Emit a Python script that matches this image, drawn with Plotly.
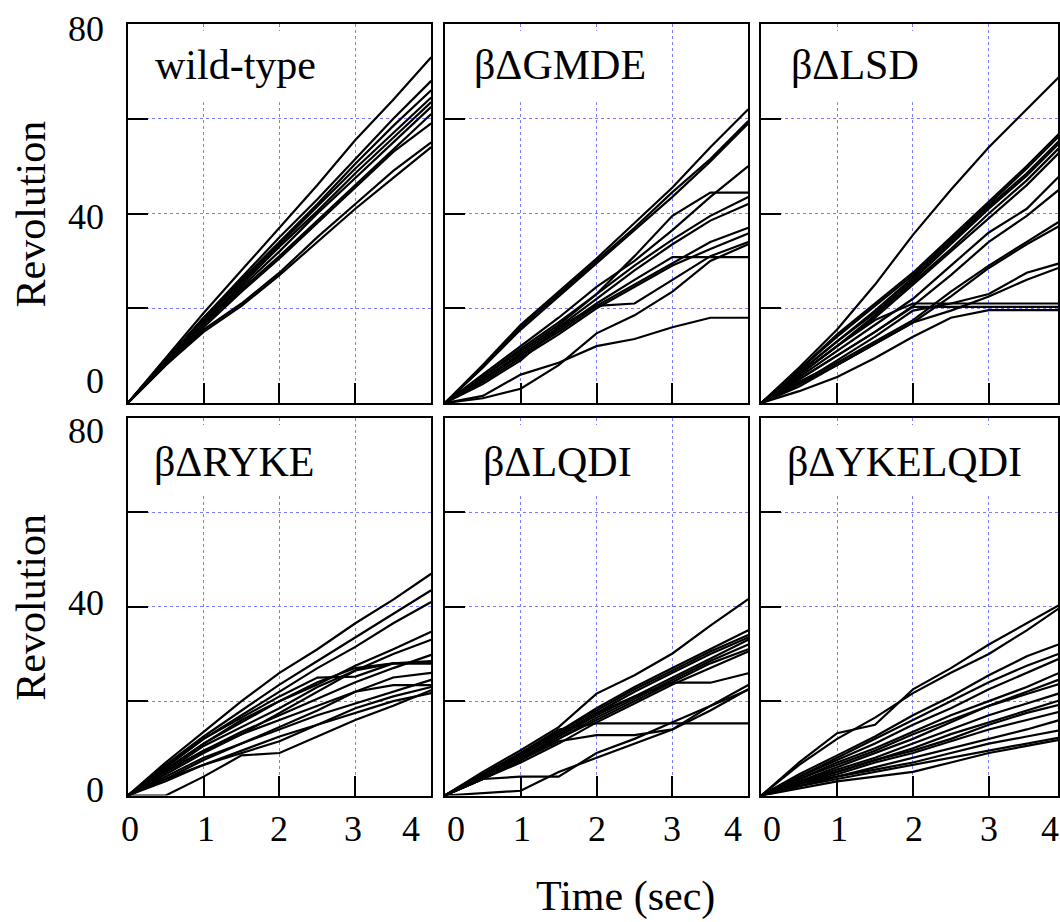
import plotly.graph_objects as go

# ---------------- data ----------------
T = [0, 0.5, 1, 1.5, 2, 2.5, 3, 3.5, 4]  # Time (sec)

WILD_TYPE = [
    [0, 9.5, 19, 28, 37, 46, 55.5, 64, 73],
    [0, 9, 18, 26.5, 35, 43, 51.5, 60, 68],
    [0, 9, 18, 26, 34, 42, 50.5, 58.5, 66],
    [0, 9, 17.5, 25.5, 33.5, 41.5, 49.5, 57, 64.5],
    [0, 8.5, 17, 25, 33, 40.5, 48.5, 56, 63.5],
    [0, 8.5, 17, 24.5, 32, 40, 47.5, 55, 62.5],
    [0, 8.5, 16.5, 24, 31, 38.5, 46, 53.5, 61],
    [0, 8, 16, 23.5, 30.5, 38, 45.5, 53, 59],
    [0, 8, 15.5, 21, 27.5, 35, 42, 49, 55],
    [0, 8, 15, 20.5, 27, 34, 41, 47.5, 54],
]

GMDE = [
    [0, 8, 16.5, 23.5, 30.5, 38, 45.5, 54, 62],
    [0, 7.5, 16, 23, 30, 37, 44.5, 51.5, 59.5],
    [0, 7.5, 15.5, 22.5, 29.5, 36.5, 43.5, 51, 59],
    [0, 6, 12, 18, 24.5, 30, 36.5, 43.5, 50],
    [0, 5.5, 11.5, 17, 23, 31, 39.5, 44.4, 44.4],
    [0, 5.5, 11, 16.5, 23, 29, 34.5, 39.5, 43.5],
    [0, 5, 10.5, 16, 22, 28, 33.5, 38.5, 42],
    [0, 5, 10, 15, 20.5, 25, 29.5, 34, 37],
    [0, 4.5, 9.5, 14.5, 20, 24.5, 29, 32.5, 35.8],
    [0, 5, 10, 15.5, 21, 26, 30.8, 30.8, 30.8],
    [0, 4, 9, 16, 20.5, 21, 26, 31, 34],
    [0, 1, 3, 8, 14.7, 18.5, 23.5, 30, 33.5],
    [0, 1.5, 6, 8.5, 12, 13.5, 16, 18, 18],
]

LSD = [
    [0, 7.5, 15.5, 25, 35.5, 45, 54, 62, 70],
    [0, 7, 14.5, 21, 27.5, 35, 42.5, 50, 58],
    [0, 7, 14, 20.5, 27, 34.5, 42, 49.5, 57.5],
    [0, 6.5, 13, 19.5, 26.5, 34, 41.5, 48.5, 56.5],
    [0, 6.5, 13, 19, 26, 33.5, 41, 48, 56],
    [0, 6, 12, 18.5, 25.5, 32.5, 40, 47, 55],
    [0, 6, 12, 18, 25, 32, 39, 46, 54],
    [0, 5.5, 11, 16.5, 22, 29, 36, 41, 49],
    [0, 5, 10, 15, 20.5, 27, 34, 39.5, 46],
    [0, 4.5, 8.5, 13, 17.5, 23.5, 29, 34, 39],
    [0, 4, 8, 12.5, 17, 22.5, 28.5, 33.5, 38],
    [0, 4, 9, 14, 19.5, 21, 23, 27.5, 29.8],
    [0, 3.5, 8, 12.5, 17, 19.5, 22.5, 26, 29],
    [0, 6, 12, 17.5, 21, 21, 21, 21, 21],
    [0, 5, 10, 15, 20.3, 20.3, 20.3, 20.3, 20.3],
    [0, 2.5, 5.5, 9.5, 14, 18, 19.6, 19.6, 19.6],
]

RYKE = [
    [0, 7, 13.5, 20, 26, 31, 36.5, 41.5, 47],
    [0, 6.5, 12.5, 18, 23.5, 28.5, 33.5, 38.5, 43.5],
    [0, 6, 12, 17, 22, 27, 31.5, 36.5, 41],
    [0, 5.5, 11, 15.5, 20, 23.5, 27.5, 31, 34.7],
    [0, 5, 10.5, 14.5, 18.5, 23, 26.5, 30, 33],
    [0, 5, 9.5, 13.5, 17, 20.5, 24, 27, 29.8],
    [0, 5.5, 11, 16, 20, 24, 27, 28, 28],
    [0, 4.5, 9, 13, 17.5, 22, 26.5, 28, 28],
    [0, 6, 12, 16.5, 21, 25, 25.2, 28, 28.5],
    [0, 4, 8, 11, 14, 17, 19.5, 22, 24.5],
    [0, 3.5, 7.5, 11, 14.5, 18, 22, 23.4, 23.4],
    [0, 3, 6.5, 9.5, 12.5, 15, 17.5, 20, 21.7],
    [0, 0, 4, 8.5, 9, 12.5, 16, 19, 22.3],
    [0, 3.5, 6.5, 9, 11.5, 15, 18.5, 21, 23],
    [0, 5, 9.5, 13, 16, 19, 22, 25, 26],
]

LQDI = [
    [0, 5, 9.6, 14.5, 21.6, 25.5, 30.1, 36, 41.6],
    [0, 4.5, 9, 13.5, 18.5, 23, 27, 31, 35],
    [0, 4.5, 9, 13.5, 18, 22.5, 26.5, 30.5, 34],
    [0, 4, 8.5, 13, 17.5, 22, 26, 30, 33.5],
    [0, 4, 8, 12.5, 17, 21, 25, 29, 33],
    [0, 4, 8, 12, 16.5, 20.5, 24.5, 28.5, 32],
    [0, 3.5, 7.5, 12, 16, 20, 24, 28, 31],
    [0, 3.5, 7, 11, 15.5, 19.5, 23.5, 27, 30.5],
    [0, 4, 8.5, 13, 17.5, 21, 23.9, 23.9, 25.9],
    [0, 4.5, 9, 14, 15.3, 15.3, 15.3, 15.3, 15.3],
    [0, 3.5, 7.5, 11.5, 12.8, 12.8, 14, 19, 23.4],
    [0, 3.5, 4, 4, 9, 12, 15.5, 19, 22.4],
    [0, 0.5, 1, 5, 8, 11, 14, 18, 22.5],
]

YKELQDI = [
    [0, 7, 13.2, 15, 22.5, 27, 32, 36.5, 41],
    [0, 6.5, 12, 16.5, 21.7, 26, 30, 35, 40.5],
    [0, 4.5, 8.5, 12.5, 17, 21, 25.5, 29.5, 32.5],
    [0, 4, 8, 12, 16, 20, 24, 27.5, 30.5],
    [0, 4, 7.5, 11, 15, 18.5, 22.5, 26, 29.5],
    [0, 3.5, 7, 10, 13.5, 17, 20, 23, 26.5],
    [0, 3, 6, 9, 12, 15.5, 19, 22, 25],
    [0, 3, 5.5, 8, 11, 14, 17, 19.5, 22],
    [0, 3, 5, 7.5, 10, 13, 15.5, 18, 20.5],
    [0, 2.5, 4.5, 7, 9, 11.5, 14, 16, 18],
    [0, 2.5, 4, 6, 8, 10, 12, 14, 16.3],
    [0, 2, 4, 5.5, 7, 9, 11, 12.5, 14],
    [0, 2, 3.5, 5, 6.5, 8, 9.5, 11, 12.5],
    [0, 1.5, 3, 4, 5, 7, 9, 10.5, 12],
    [0, 3.5, 6.5, 9.5, 13, 16, 19, 21.5, 24],
    [0, 2.5, 5, 7.5, 9.5, 12, 15, 17.5, 19.5],
]

PANEL_LABELS = ["wild-type", "βΔGMDE", "βΔLSD", "βΔRYKE", "βΔLQDI", "βΔYKELQDI"]
PANEL_DATA = [WILD_TYPE, GMDE, LSD, RYKE, LQDI, YKELQDI]
X_TICK_LABELS = [0, 1, 2, 3, 4]
Y_TICK_LABELS = [0, 40, 80]
X_GRID = [1, 2, 3]
Y_GRID = [20, 40, 60]
X_TITLE = "Time (sec)"
Y_TITLE = "Revolution"

# ---------------- layout geometry ----------------
W, H = 1060, 922
LEFT = [128, 445.7, 762.7]      # px of x=0 for each column
PXU = 76                         # px per second
TOP = [24, 418]                  # px of y=80 per row
BOT = [403, 795.5]               # px of y=0 per row
LABEL_X = [153, 473, 790, 152, 482, 786]
LABEL_Y = [65, 462]
LABEL_END = [2.46, 2.6, 2.03, 2.42, 2.43, 3.41]
XLAB_SHIFT = [[2, 2, 0, -2, -20], [11, 1, 0, 0, -15], [11, 2, 1, 0, -15]]
YLAB_SHIFT = [[22, -4, -5.5], [5.5, 4, -13]]

SERIF = "Liberation Serif"
GRID_COLOR = "#7b7bff"

fig = go.Figure()
shapes, annotations = [], []

for i, (label, series) in enumerate(zip(PANEL_LABELS, PANEL_DATA)):
    r, c = divmod(i, 3)
    n = i + 1
    sfx = "" if n == 1 else str(n)
    xmax = min(4.0, (W - LEFT[c]) / PXU)
    x0p = LEFT[c] / W
    x1p = min(1.0, (LEFT[c] + 4 * PXU) / W)
    y0p = 1 - BOT[r] / H
    y1p = 1 - TOP[r] / H

    for vals in series:
        fig.add_trace(go.Scatter(
            x=T, y=vals, mode="lines",
            line=dict(color="black", width=2.2),
            xaxis="x" + sfx, yaxis="y" + sfx,
            showlegend=False, hoverinfo="skip"))

    common = dict(showline=True, linecolor="black", linewidth=2, mirror=True,
                  ticks="inside", ticklen=20, tickwidth=2, tickcolor="black",
                  showticklabels=False, showgrid=True, gridcolor=GRID_COLOR,
                  gridwidth=1, griddash="3px,3px", zeroline=False, fixedrange=True)
    fig.layout["xaxis" + sfx] = dict(domain=[x0p, x1p], range=[0, xmax],
                                     tickvals=X_GRID, anchor="y" + sfx, **common)
    fig.layout["yaxis" + sfx] = dict(domain=[y0p, y1p], range=[0, 80],
                                     tickvals=Y_GRID, anchor="x" + sfx, **common)

    # white box behind the panel label (hides the grid there)
    shapes.append(dict(type="rect", xref="x" + sfx, yref="y" + sfx,
                       x0=0, x1=LABEL_END[i] + 0.3, y0=63.5, y1=78.5,
                       fillcolor="white", line=dict(width=0), layer="between"))

    annotations.append(dict(text=label, xref="paper", yref="paper",
                            x=LABEL_X[i] / W, y=1 - LABEL_Y[r] / H,
                            xanchor="left", yanchor="middle", showarrow=False,
                            font=dict(family=SERIF, size=42, color="black")))

    # x tick labels (bottom row only)
    if r == 1:
        for k, v in enumerate(X_TICK_LABELS):
            annotations.append(dict(text=str(v), xref="paper", yref="paper",
                                    x=(LEFT[c] + v * PXU) / W, y=1 - 829 / H,
                                    xshift=XLAB_SHIFT[c][k],
                                    xanchor="center", yanchor="middle", showarrow=False,
                                    font=dict(family=SERIF, size=36, color="black")))
    # y tick labels (left column only)
    if c == 0:
        for k, v in enumerate(Y_TICK_LABELS):
            annotations.append(dict(text=str(v), xref="paper", yref="y" + sfx,
                                    x=106 / W, y=v, yshift=YLAB_SHIFT[r][k],
                                    xanchor="right", yanchor="middle", showarrow=False,
                                    font=dict(family=SERIF, size=36, color="black")))
        annotations.append(dict(text=Y_TITLE, xref="paper", yref="paper",
                                x=31 / W, y=1 - ((TOP[r] + BOT[r]) / 2) / H,
                                textangle=-90, xanchor="center", yanchor="middle",
                                showarrow=False,
                                font=dict(family=SERIF, size=42, color="black")))

annotations.append(dict(text=X_TITLE, xref="paper", yref="paper",
                        x=627 / W, y=1 - 896 / H, xanchor="center", yanchor="middle",
                        showarrow=False, font=dict(family=SERIF, size=42, color="black")))

fig.update_layout(width=W, height=H, margin=dict(l=0, r=0, t=0, b=0),
                  paper_bgcolor="white", plot_bgcolor="white",
                  shapes=shapes, annotations=annotations,
                  font=dict(family=SERIF, color="black"))

fig.write_html("out.html", config={"displayModeBar": False})
